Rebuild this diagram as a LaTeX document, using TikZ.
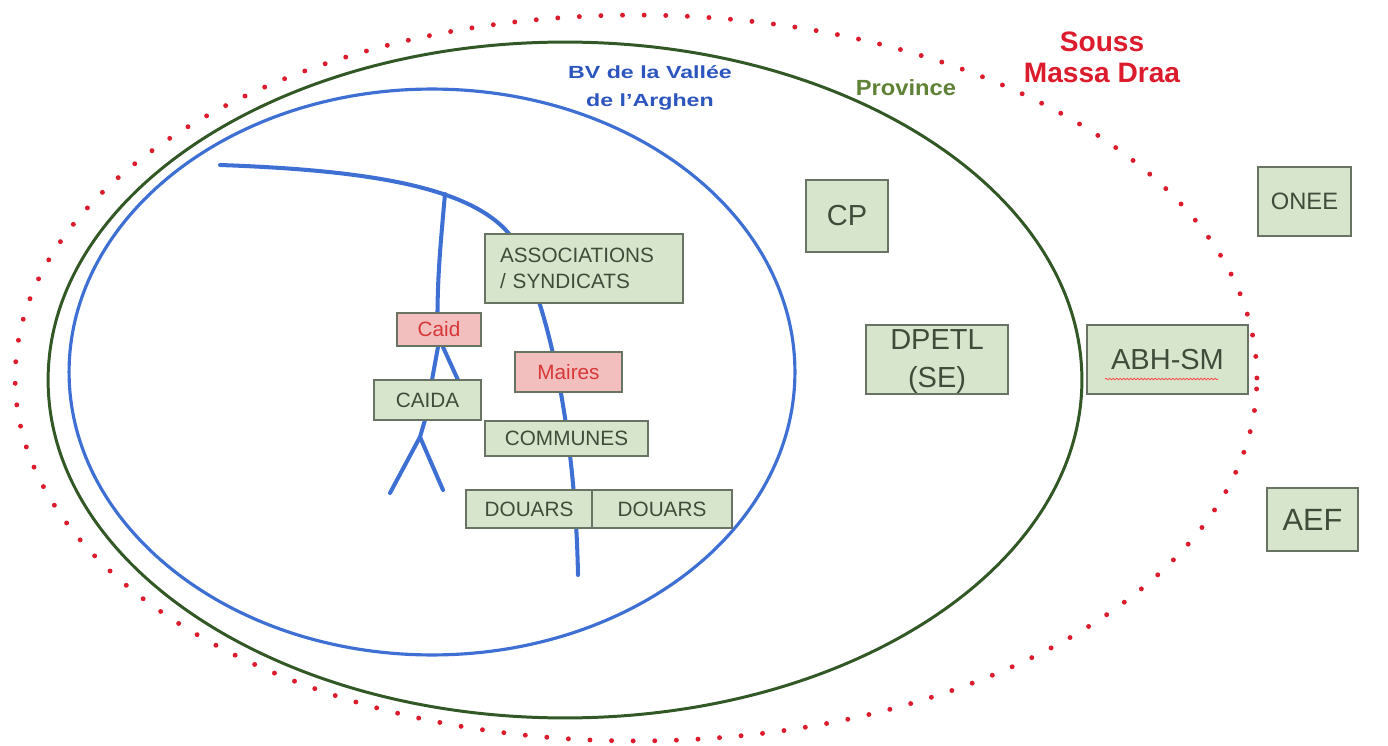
\documentclass[tikz,border=0pt]{standalone}
\usepackage{fontspec}
\setmainfont{Liberation Sans}
\newfontfamily\widesans[FakeStretch=1.32]{Liberation Sans}
\newfontfamily\provsans[FakeStretch=1.08]{Liberation Sans}
\usetikzlibrary{decorations.pathmorphing}

\definecolor{boxfill}{RGB}{215,229,204}
\definecolor{boxline}{RGB}{105,115,100}
\definecolor{boxtext}{RGB}{62,76,58}
\definecolor{redfill}{RGB}{242,190,190}
\definecolor{redtext}{RGB}{215,55,55}
\definecolor{river}{RGB}{62,112,212}
\definecolor{bvblue}{RGB}{45,85,190}
\definecolor{provgreen}{RGB}{50,88,38}
\definecolor{provtext}{RGB}{95,130,55}
\definecolor{regionred}{RGB}{220,28,45}

\tikzset{
  box/.style={draw=boxline,fill=boxfill,text=boxtext,inner sep=0pt,line width=0.7pt},
  bigbox/.style={box,font=\fontsize{16.5}{20}\selectfont},
  smallbox/.style={box,font=\fontsize{11.8}{14}\selectfont},
  redbox/.style={smallbox,fill=redfill,text=redtext},
  riverline/.style={draw=river,line width=2.3pt,line cap=round,line join=round}
}

\begin{document}
\begin{tikzpicture}[x=0.02cm,y=-0.02cm]
			\useasboundingbox (0,0) rectangle (1388,746);
			% limites
			\draw[provgreen,line width=1.7pt] (565,380) ellipse [x radius=10.34cm,y radius=6.76cm];
			\draw[river,line width=1.8pt] (432,372) ellipse [x radius=7.26cm,y radius=5.66cm];
			% oued et affluents
			\draw[riverline] (220,165) .. controls (360,170) and (470,185) .. (510,235)
				.. controls (545,290) and (575,420) .. (578,575);
			\draw[riverline] (445,194) .. controls (440,250) and (436,290) .. (438,347) -- (432,380);
			\draw[riverline] (443,347) -- (458,380);
			\draw[riverline] (425,420) -- (420,437) -- (390,493);
			\draw[riverline] (420,437) -- (443,490);
			% acteurs
			\draw (847,216) node [bigbox,minimum width=1.64cm,minimum height=1.44cm] (cp) {CP};
			\draw (1304.5,201.5) node [bigbox,minimum width=1.86cm,minimum height=1.38cm,font=\fontsize{13.5}{16}\selectfont] (onee) {ONEE};
			\draw (584,268.5) node [smallbox,inner xsep=0.3cm,text width=3.36cm,minimum height=1.38cm,align=left,font=\fontsize{11.8}{14.5}\selectfont] (assoc) {ASSOCIATIONS\\/ SYNDICATS};
			\draw (439,329.5) node [redbox,minimum width=1.68cm,minimum height=0.66cm] (caid) {Caid};
			\draw (568.5,372) node [redbox,minimum width=2.14cm,minimum height=0.8cm] (maires) {Maires};
			\draw (427.5,400) node [smallbox,minimum width=2.14cm,minimum height=0.8cm] (caida) {CAIDA};
			\draw (566.5,438.5) node [smallbox,minimum width=3.26cm,minimum height=0.7cm] (communes) {COMMUNES};
			\draw (529,509) node [smallbox,minimum width=2.52cm,minimum height=0.76cm] (douars1) {DOUARS};
			\draw (662,509) node [smallbox,minimum width=2.8cm,minimum height=0.76cm] (douars2) {DOUARS};
			\draw (937,359.5) node [bigbox,minimum width=2.84cm,minimum height=1.38cm] (dpetl) {};
			\draw (937,361.5) node [text=boxtext,inner sep=0pt,align=center,font=\fontsize{16.5}{21.5}\selectfont] (dpetltxt) {DPETL\\(SE)};
			\draw (1167.5,359.5) node [bigbox,minimum width=3.22cm,minimum height=1.38cm] (abh) {ABH-SM};
			\draw (1312.5,519.5) node [bigbox,minimum width=1.82cm,minimum height=1.26cm,font=\fontsize{17.5}{20}\selectfont] (aef) {AEF};
			\draw[red!75,line width=0.4pt,decorate,decoration={snake,amplitude=0.45pt,segment length=2pt}] (1105,379) -- (1218,379);
			% region
			\draw[regionred,line width=2.8pt,line cap=round,dash pattern=on 0pt off 12.3pt] (636,378) ellipse [x radius=12.42cm,y radius=7.26cm];
			% titres
			\draw (650,88) node [text=bvblue,align=center,font=\widesans\bfseries\fontsize{10}{15.5}\selectfont] (bv) {BV de la Vallée\\de l’Arghen};
			\draw (906,88) node [text=provtext,font=\provsans\bfseries\fontsize{12.5}{14}\selectfont] (prov) {Province};
			\draw (1102,57) node [text=regionred,align=center,font=\bfseries\fontsize{16}{17.5}\selectfont] (smd) {Souss\\Massa Draa};
		\end{tikzpicture}
\end{document}
